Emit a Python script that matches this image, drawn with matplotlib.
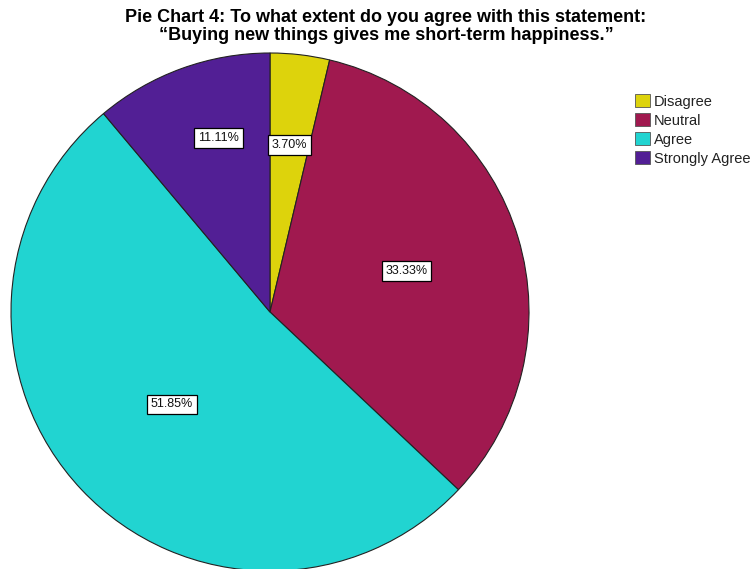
import matplotlib
matplotlib.use("Agg")
import matplotlib.pyplot as plt
import numpy as np
from matplotlib.patches import Patch

categories = ["Disagree", "Neutral", "Agree", "Strongly Agree"]
percentages = [3.70, 33.33, 51.85, 11.11]
colors = ["#DDD30C", "#A0194F", "#21D4D1", "#521F95"]
label_radius = [0.65, 0.55, 0.52, 0.70]
label_angle_shift = [0.0, 0.0, 0.0, -3.5]

plt.rcParams["font.family"] = ["Liberation Sans", "DejaVu Sans"]

W, H = 753, 569
cx, cy, R = 270, 312, 259

fig = plt.figure(figsize=(W / 100, H / 100), dpi=100)
ax = fig.add_axes([0, 0, 1, 1])

wedges, _ = ax.pie(percentages, colors=colors, startangle=90, counterclock=False,
                   radius=1.0, wedgeprops=dict(edgecolor="#222222", linewidth=0.8))
ax.set_aspect("equal", adjustable="datalim")
ax.set_xlim(-cx / R, (W - cx) / R)
ax.set_ylim(-(H - cy) / R, cy / R)
ax.axis("off")

# percentage labels in white boxes
total = sum(percentages)
start = 90.0
for p, r, shift in zip(percentages, label_radius, label_angle_shift):
    span = 360.0 * p / total
    mid = np.deg2rad(start - span / 2 + shift)
    start -= span
    ax.text(r * np.cos(mid), r * np.sin(mid), f"{p:.2f}%", ha="center", va="center",
            fontsize=9, color="#111111",
            bbox=dict(boxstyle="square,pad=0.3", facecolor="white", edgecolor="black", linewidth=0.9))

fig.text(386 / W, 1 - 18 / H,
         "Pie Chart 4: To what extent do you agree with this statement:",
         ha="center", va="center", fontsize=13, fontweight="bold")
fig.text(386 / W, 1 - 35 / H,
         "\u201cBuying new things gives me short-term happiness.\u201d",
         ha="center", va="center", fontsize=13, fontweight="bold")

handles = [Patch(facecolor=c, edgecolor="#555555", linewidth=0.6) for c in colors]
leg = fig.legend(handles, categories, loc="upper left", bbox_to_anchor=(635 / W, 1 - 94 / H),
                 frameon=False, fontsize=10.5, handlelength=1.0, handleheight=1.0,
                 handletextpad=0.3, labelspacing=0.31, borderpad=0, borderaxespad=0)
for t in leg.get_texts():
    t.set_color("#222222")

fig.savefig("out.png", dpi=100)
